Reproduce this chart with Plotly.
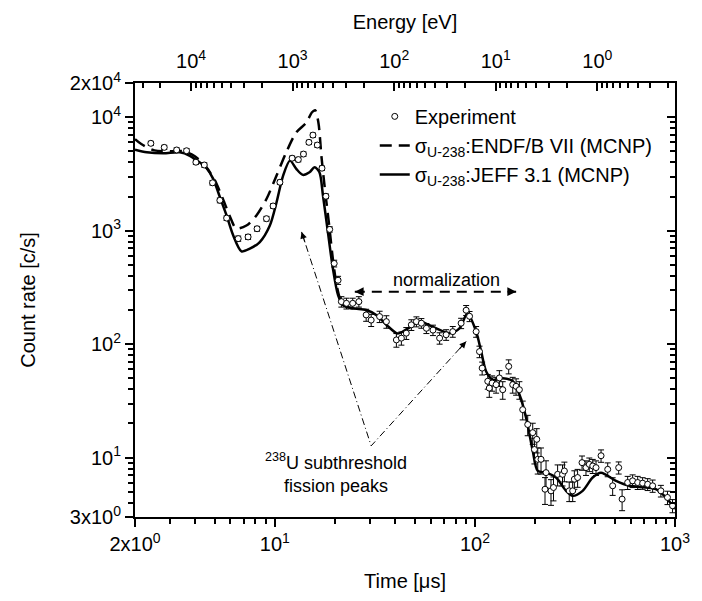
import math
import plotly.graph_objects as go

# ---------------- data ----------------
exp_t = [2.40, 2.80, 3.23, 3.62, 4.03, 4.44, 4.88, 5.31, 5.74, 6.56, 7.35, 8.15, 9.08, 9.80,
         10.6, 12.2, 13.1, 13.9, 14.8, 15.5, 16.3, 17.2, 18.0, 18.8, 19.8, 20.7,
         21.5, 22.8, 24.5, 26.3, 28.6, 30.3, 33.4, 36.1, 40.5, 42.9, 45.4, 48.1, 51.0, 54.0,
         57.2, 61.7, 66.6, 71.8, 77.5, 85.3, 90.4, 94.0, 101.4, 105.4, 108.7, 115.9, 118.0,
         121.9, 127.6, 132.5, 137.7, 147.5, 154.5, 160.6, 166.8, 173.3, 183.6, 194.5, 198.3,
         203.7, 206.1, 214.0, 224.0, 226.7, 240.0, 247.0, 259.0, 274.0, 280.0, 296.0, 308.0,
         314.0, 326.0, 343.0, 359.0, 373.0, 388.0, 403.0, 427.0, 461.0, 488.0, 523.0, 544.0,
         580.0, 614.0, 651.0, 689.0, 730.0, 773.0, 850.0, 917.0, 972.0]
exp_rate = [5880, 5420, 5140, 5060, 4010, 3790, 2640, 1850, 1290, 851, 881, 1040, 1275, 1650,
            2670, 4350, 4230, 4730, 6000, 6950, 5680, 3550, 2010, 1026, 514, 366,
            237, 229, 229, 237, 181, 163, 175, 158, 109, 113, 125, 148, 158, 153,
            138, 133, 113, 121, 129, 153, 199, 176, 129, 86, 61.5, 47.1, 41.0,
            45.5, 44.0, 50.4, 39.7, 63.7, 44.0, 42.5, 39.7, 26.5, 19.6, 16.6, 11.8,
            14.5, 9.67, 9.67, 5.27, 7.38, 5.10, 5.46, 7.13, 7.13, 7.63, 5.10, 5.10,
            6.46, 6.68, 9.04, 8.17, 8.73, 8.45, 8.17, 10.4, 7.89, 5.65, 8.17, 4.31,
            6.04, 6.25, 6.04, 5.96, 5.83, 5.65, 5.10, 4.46, 3.77]
exp_err = [250, 230, 220, 220, 180, 170, 120, 90, 60, 45, 45, 50, 60, 75,
           120, 190, 190, 210, 260, 300, 250, 160, 95, 55, 35, 30,
           25, 25, 25, 25, 22, 20, 20, 20, 15, 15, 15, 16, 16, 15,
           14, 14, 13, 13, 14, 16, 20, 18, 14, 10, 8, 7, 7,
           7, 7, 8, 7, 9, 7, 7, 7, 5, 4, 3.5, 3,
           3.5, 2.5, 2.5, 1.4, 2.0, 1.3, 1.3, 1.5, 1.5, 1.5, 1.0, 1.0,
           1.2, 1.2, 1.3, 1.2, 1.2, 1.2, 1.2, 1.3, 1.1, 1.0, 1.0, 0.9,
           0.8, 0.8, 0.8, 0.7, 0.7, 0.7, 0.6, 0.6, 0.5]

jeff_t = [2.0, 2.29, 2.77, 3.35, 3.76, 4.22, 4.56, 4.92, 5.31, 5.74, 6.19, 6.81, 7.50, 8.41,
          9.44, 10.2, 11.0, 11.9, 12.8, 13.8, 14.9, 15.8, 16.7, 17.4, 18.5, 19.5, 20.7,
          21.9, 24.5, 28.6, 32.1, 36.1, 40.5, 42.0, 47.0, 52.8, 60.0, 74.6, 83.7, 91.8,
          101.4, 107.5, 113.8, 122.8, 137.8, 154.6, 166.9, 180.3, 194.5, 206.1, 226.6,
          254.4, 285.4, 307.9, 345.5, 387.7, 426.6, 507.0, 590.8, 716.0, 802.0, 900.0, 1000.0]
jeff_rate = [5160, 4900, 4800, 4900, 4570, 3980, 3550, 2860, 1980, 1360, 910, 658, 695, 794,
             1110, 1780, 3055, 4140, 3500, 3100, 3270, 3620, 3270, 2040, 912, 465, 270,
             221, 207, 200, 181, 148, 125, 125, 140, 158, 145, 125, 138, 186,
             129, 86, 57.5, 48.6, 50.1, 47.1, 36.0, 22.4, 11.5, 7.64, 7.38,
             6.68, 5.10, 4.61, 5.10, 6.68, 7.38, 6.25, 5.65, 5.46, 5.27, 4.46, 3.52]

endf_t = [2.0, 2.15, 2.5, 3.0, 3.5, 4.0, 4.5, 5.0, 5.5, 6.0, 6.4, 7.21, 8.09, 9.08, 10.2,
          11.4, 12.8, 14.4, 15.3, 15.9, 16.5, 17.1, 17.8, 18.7, 19.5, 20.3, 21.1, 21.9, 24.5]
endf_rate = [6400, 5800, 5100, 5000, 5000, 4500, 3700, 2800, 1900, 1300, 1050, 1110, 1360,
             1900, 3060, 4900, 7350, 8980, 11000, 11500, 9000, 4500, 2300, 1100, 560, 340,
             255, 221, 207]

x_tickvals = [2, 10, 100, 1000]
x_ticktext = ["2x10<sup>0</sup>", "10<sup>1</sup>", "10<sup>2</sup>", "10<sup>3</sup>"]
y_tickvals = [3, 10, 100, 1000, 10000, 20000]
y_ticktext = ["3x10<sup>0</sup>", "10<sup>1</sup>", "10<sup>2</sup>", "10<sup>3</sup>",
              "10<sup>4</sup>", "2x10<sup>4</sup>"]
e_tickvals = [1e4, 1e3, 1e2, 1e1, 1]
e_ticktext = ["10<sup>4</sup>", "10<sup>3</sup>", "10<sup>2</sup>", "10<sup>1</sup>", "10<sup>0</sup>"]

x_minor = [m * d for d in (1, 10, 100) for m in range(2, 10)]
y_minor = [m * d for d in (1, 10, 100, 1000) for m in range(2, 10)] + [20000]
e_minor = [m * d for d in (0.1, 1, 10, 100, 1000, 10000) for m in range(2, 10)]

# annotation geometry (data coordinates)
norm_t = [25.1, 160.7]
norm_rate = [290, 290]
fiss_t = [13.6, 30.3, 90.4]
fiss_rate = [975, 12.7, 105.7]

FONT = "Arial, Liberation Sans, sans-serif"

fig = go.Figure()

fig.add_trace(go.Scatter(x=jeff_t, y=jeff_rate, mode="lines", line=dict(color="black", width=2.5, shape="spline", smoothing=0.8),
                         name="σ<sub>U-238</sub>:JEFF 3.1 (MCNP)", legendrank=3))
fig.add_trace(go.Scatter(x=endf_t, y=endf_rate, mode="lines", line=dict(color="black", width=2.5, dash="12px,7px", shape="spline", smoothing=0.8),
                         name="σ<sub>U-238</sub>:ENDF/B VII (MCNP)", legendrank=2))
fig.add_trace(go.Scatter(x=exp_t, y=exp_rate, mode="markers", name="Experiment", legendrank=1,
                         marker=dict(symbol="circle", size=6, color="white", line=dict(color="black", width=1)),
                         error_y=dict(type="data", array=exp_err, color="black", thickness=1, width=3)))

# normalization arrow and fission-peak pointers
fig.add_trace(go.Scatter(x=norm_t, y=norm_rate, mode="lines", showlegend=False, hoverinfo="skip",
                         line=dict(color="black", width=2, dash="10px,7px")))
fig.add_trace(go.Scatter(x=fiss_t, y=fiss_rate, mode="lines", showlegend=False, hoverinfo="skip",
                         line=dict(color="black", width=1, dash="7px,3px,1px,3px")))

# dummy traces so the overlay axes are drawn
fig.add_trace(go.Scatter(x=[10], y=[100], xaxis="x2", yaxis="y", mode="markers", marker=dict(opacity=0),
                         showlegend=False, hoverinfo="skip"))
fig.add_trace(go.Scatter(x=[10], y=[100], xaxis="x", yaxis="y2", mode="markers", marker=dict(opacity=0),
                         showlegend=False, hoverinfo="skip"))

ann = []
ann.append(dict(x=math.log10(72), y=math.log10(370), xref="x", yref="y", text="normalization", showarrow=False,
                font=dict(size=18, family=FONT, color="black")))
ann.append(dict(x=math.log10(20.1), y=math.log10(7.4), xref="x", yref="y",
                text="<sup>238</sup>U subthreshold<br>fission peaks", showarrow=False,
                font=dict(size=18, family=FONT, color="black")))
# arrow heads
for (t, r, ax, ay, w) in [(norm_t[0], norm_rate[0], 10, 0, 1.6), (norm_t[1], norm_rate[1], -10, 0, 1.6),
                          (fiss_t[0], fiss_rate[0], 3.7, 11.4, 1.2), (fiss_t[2], fiss_rate[2], -8, 8.9, 1.2)]:
    ann.append(dict(x=math.log10(t), y=math.log10(r), xref="x", yref="y", text="", showarrow=True,
                    ax=ax, ay=ay, arrowhead=2, arrowsize=1.1, arrowwidth=w, arrowcolor="black", standoff=0))

axis_common = dict(showgrid=False, zeroline=False, showline=True, linecolor="black", linewidth=2,
                   tickcolor="black", tickwidth=1.5, tickfont=dict(size=20, family=FONT, color="black"))

fig.update_layout(
    width=702, height=601, autosize=False,
    margin=dict(l=135, r=26, t=83, b=82),
    paper_bgcolor="white", plot_bgcolor="white",
    font=dict(family=FONT, color="black"),
    annotations=ann,
    showlegend=True,
    legend=dict(x=0.444, y=0.968, xanchor="left", yanchor="top", bgcolor="rgba(0,0,0,0)",
                font=dict(size=20, family=FONT, color="black"), tracegroupgap=0),
    xaxis=dict(type="log", range=[math.log10(2), 3], tickmode="array", tickvals=x_tickvals, ticktext=x_ticktext,
               ticks="outside", ticklen=8,
               minor=dict(tickmode="array", tickvals=x_minor, ticks="outside", ticklen=5, tickwidth=1.5, tickcolor="black", showgrid=False),
               title=dict(text="Time [μs]", font=dict(size=20, family=FONT), standoff=20), **axis_common),
    yaxis=dict(type="log", range=[math.log10(3), math.log10(20000)], tickmode="array", tickvals=y_tickvals, ticktext=y_ticktext,
               ticks="outside", ticklen=8,
               minor=dict(tickmode="array", tickvals=y_minor, ticks="outside", ticklen=5, tickwidth=1.5, tickcolor="black", showgrid=False),
               title=dict(text="Count rate [c/s]", font=dict(size=20, family=FONT), standoff=29), **axis_common),
    xaxis2=dict(type="log", overlaying="x", side="top", anchor="y", range=[4.552, -0.765],
                tickmode="array", tickvals=e_tickvals, ticktext=e_ticktext, ticks="inside", ticklen=8,
                ticklabelstandoff=5,
                minor=dict(tickmode="array", tickvals=e_minor, ticks="inside", ticklen=5, tickwidth=1.5, tickcolor="black", showgrid=False),
                title=dict(text="Energy [eV]", font=dict(size=20, family=FONT), standoff=12), **axis_common),
    yaxis2=dict(type="log", overlaying="y", side="right", anchor="x", range=[math.log10(3), math.log10(20000)],
                tickmode="array", tickvals=y_tickvals, showticklabels=False, ticks="inside", ticklen=8,
                minor=dict(tickmode="array", tickvals=y_minor, ticks="inside", ticklen=5, tickwidth=1.5, tickcolor="black", showgrid=False),
                **axis_common),
)

fig.write_html("out.html")
